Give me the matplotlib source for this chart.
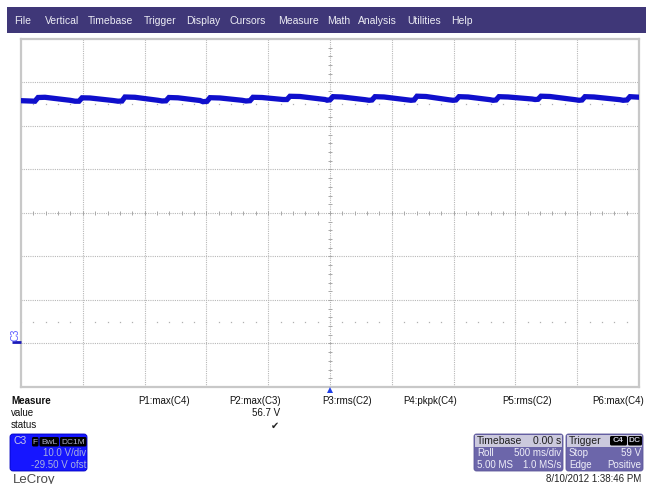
import numpy as np
import matplotlib
matplotlib.use("Agg")
from matplotlib import pyplot as plt
from matplotlib.patches import FancyBboxPatch, Rectangle

plt.rcParams["font.family"] = ["Liberation Sans", "DejaVu Sans"]

# C3 trace (time in s, volts)
trace_t = [-2.500, -2.387, -2.362, -2.306, -2.104, -2.063, -2.031, -2.006, -1.942,
           -1.756, -1.715, -1.683, -1.659, -1.578, -1.392, -1.359, -1.327, -1.303,
           -1.230, -1.052, -1.028, -0.995, -0.971, -0.890, -0.712, -0.680, -0.647,
           -0.623, -0.550, -0.380, -0.348, -0.324, -0.243, -0.040, -0.024, 0.000,
           0.024, 0.097, 0.283, 0.316, 0.340, 0.364, 0.437, 0.623, 0.655, 0.680,
           0.704, 0.777, 0.963, 0.995, 1.019, 1.044, 1.117, 1.294, 1.319, 1.343,
           1.367, 1.440, 1.634, 1.659, 1.683, 1.707, 1.780, 1.982, 2.015, 2.039,
           2.063, 2.136, 2.346, 2.371, 2.403, 2.427, 2.500]
trace_v = [55.32, 55.20, 56.05, 56.10, 55.41, 55.20, 55.20, 55.98, 55.94,
           55.36, 55.20, 55.25, 56.17, 56.10, 55.41, 55.25, 55.29, 56.05,
           55.98, 55.36, 55.09, 55.18, 56.01, 55.94, 55.41, 55.25, 55.32,
           56.10, 56.05, 55.59, 55.59, 56.33, 56.28, 55.59, 55.43, 55.52,
           56.24, 56.17, 55.55, 55.41, 55.48, 56.24, 56.17, 55.52, 55.41, 55.48,
           56.35, 56.28, 55.52, 55.41, 55.48, 56.24, 56.17, 55.55, 55.41, 55.48,
           56.24, 56.17, 55.71, 55.59, 55.64, 56.35, 56.28, 55.55, 55.41, 55.48,
           56.24, 56.17, 55.55, 55.41, 55.48, 56.24, 56.12]

volts_per_div = 10.0
offset = -29.50
sec_per_div = 0.5

menu_items = ["File", "Vertical", "Timebase", "Trigger", "Display", "Cursors",
              "Measure", "Math", "Analysis", "Utilities", "Help"]
menu_x = [14, 45, 88, 144, 186, 230, 278, 327, 358, 407, 451]

param_names = ["P1:max(C4)", "P2:max(C3)", "P3:rms(C2)", "P4:pkpk(C4)", "P5:rms(C2)", "P6:max(C4)"]
param_x = [138, 229, 322, 403, 502, 592]

W, H = 646, 484
fig = plt.figure(figsize=(W / 100, H / 100), dpi=100)
fig.patch.set_facecolor("white")

# scope grid
ax = fig.add_axes([21 / W, 1 - 387 / H, 618 / W, 348 / H])
center = -offset
ax.set_xlim(-5 * sec_per_div, 5 * sec_per_div)
ax.set_ylim(center - 4 * volts_per_div, center + 4 * volts_per_div)
ax.set_xticks([])
ax.set_yticks([])
for s in ax.spines.values():
    s.set_color("#c8c8c8")
    s.set_linewidth(1.6)

grid_kw = dict(color="#b8b8b8", lw=0.8, ls=(0, (1, 1)), zorder=1)
for k in range(-4, 5):
    ax.axvline(k * sec_per_div, **grid_kw)
for k in range(-3, 4):
    ax.axhline(center + k * volts_per_div, **grid_kw)

# tick marks on the centre cross
xt = np.arange(-25, 26) * sec_per_div / 5
ax.plot(xt, np.full(xt.size, center), ls="none", marker="|", ms=3.5, mew=0.7, color="#a8a8a8", zorder=1)
yt = np.arange(-20, 21) * volts_per_div / 5
ax.plot(np.zeros(yt.size), center + yt, ls="none", marker="_", ms=3.5, mew=0.7, color="#a8a8a8", zorder=1)
# dotted rows at +/-2.5 div
for r in (-2.5, 2.5):
    ax.plot(xt, np.full(xt.size, center + r * volts_per_div), ls="none", marker="s",
            ms=0.9, mew=0, color="#b0b0b0", zorder=1)

ax.plot(trace_t, trace_v, color="#0f0fcc", lw=3.8, solid_joinstyle="miter", zorder=3)

# UI overlay in pixel coordinates
ui = fig.add_axes([0, 0, 1, 1])
ui.set_xlim(0, W)
ui.set_ylim(H, 0)
ui.axis("off")
ui.patch.set_visible(False)

ui.add_patch(Rectangle((7, 7), W - 7, 26, color="#3f3778", lw=0))
for name, x in zip(menu_items, menu_x):
    ui.text(x, 20.5, name, color="#ececf4", fontsize=7.5, va="center", ha="left")

# C3 ground marker and trigger marker
ui.text(15.5, 335, "C3", rotation=90, color="#5a5aff", fontsize=7, ha="center", va="center")
ui.plot([12, 21], [341.5, 341.5], color="#1a1ab8", lw=2, solid_capstyle="butt")
ui.plot([330], [390], marker="^", color="#2040e8", ms=5, mew=0)

# measure table
ui.text(11, 401, "Measure", fontsize=7, fontweight="bold", va="center", color="#111")
ui.text(11, 413, "value", fontsize=7, va="center", color="#111")
ui.text(11, 425.5, "status", fontsize=7, va="center", color="#111")
for name, x in zip(param_names, param_x):
    ui.text(x, 401, name, fontsize=7, va="center", color="#111")
ui.text(280, 413, "56.7 V", fontsize=7, va="center", ha="right", color="#111")
ui.text(275, 426, "\u2714", fontsize=7, va="center", ha="center", color="#222",
        family=["DejaVu Sans"])

# channel box
ui.add_patch(FancyBboxPatch((10, 434), 77, 37, boxstyle="round,pad=0,rounding_size=3",
                            fc="#1616ff", ec="#0000c0", lw=0.6))
ui.text(14, 441.5, "C3", fontsize=7.5, va="center", color="#c8c8e8")
for lab, x0, x1 in [("F", 32, 38.5), ("BwL", 39.5, 59), ("DC1M", 60, 86.5)]:
    ui.add_patch(FancyBboxPatch((x0, 437), x1 - x0, 9.5, boxstyle="round,pad=0,rounding_size=1.5",
                                fc="black", lw=0))
    ui.text((x0 + x1) / 2, 442, lab, fontsize=6, va="center", ha="center", color="#b0b0d0")
ui.text(86, 452.5, "%.1f V/div" % volts_per_div, fontsize=7, va="center", ha="right", color="#a8b0e0")
ui.text(86, 464.5, "%.2f V ofst" % offset, fontsize=7, va="center", ha="right", color="#a8b0e0")

ui.text(13, 479.5, "LeCroy", fontsize=9.5, va="center", color="#4a4a4a")

# timebase / trigger boxes
def status_box(x0, x1, rows):
    ui.add_patch(FancyBboxPatch((x0, 434), x1 - x0, 37, boxstyle="round,pad=0,rounding_size=2.5",
                                fc="#6c66aa", ec="#5a5498", lw=0.6))
    ui.add_patch(Rectangle((x0 + 1, 435), x1 - x0 - 2, 11.5, color="#cbc9dd", lw=0))
    for i, (left, right) in enumerate(rows):
        y = 440.5 + 12 * i
        c = "#1e1e1e" if i == 0 else "#eeeef8"
        ui.text(x0 + 3, y, left, fontsize=7.5 if i == 0 else 7, va="center", color=c)
        if right:
            ui.text(x1 - 1.5, y, right, fontsize=7.5 if i == 0 else 7, va="center", ha="right", color=c)

status_box(474, 563, [("Timebase", "0.00 s"), ("Roll", "500 ms/div"), ("5.00 MS", "1.0 MS/s")])
status_box(566, 643, [("Trigger", ""), ("Stop", "59 V"), ("Edge", "Positive")])
for lab, x0, x1 in [("C4", 610, 627), ("DC", 628, 642)]:
    ui.add_patch(FancyBboxPatch((x0, 436), x1 - x0, 9.5, boxstyle="round,pad=0,rounding_size=1.5",
                                fc="black", lw=0))
    ui.text((x0 + x1) / 2, 440.8, lab, fontsize=6, va="center", ha="center", color="#c8c8d8",
            fontweight="bold")

ui.text(641, 479.5, "8/10/2012 1:38:46 PM", fontsize=7, va="center", ha="right", color="#222")

fig.savefig("out.png", dpi=100)
